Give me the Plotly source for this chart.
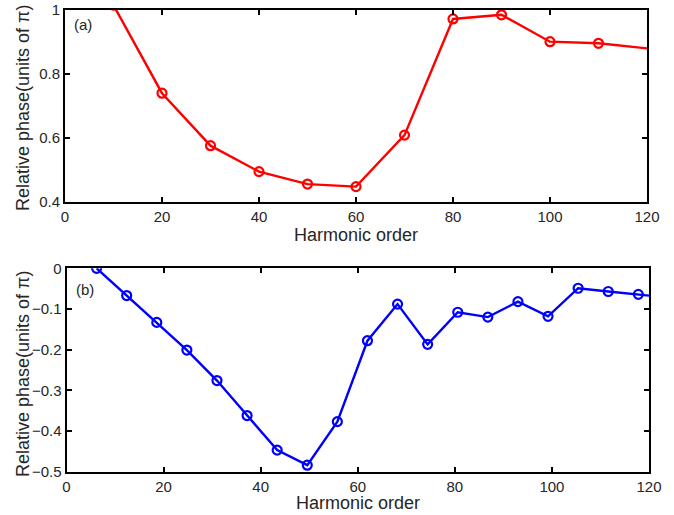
import plotly.graph_objects as go

# Panel (a)
harm_a = [10, 20, 30, 40, 50, 60, 70, 80, 90, 100, 110, 130]
phase_a = [1.015, 0.740, 0.576, 0.495, 0.456, 0.448, 0.609, 0.972, 0.985, 0.901, 0.896, 0.864]

# Panel (b)
harm_b = [6.2, 12.4, 18.6, 24.8, 31.0, 37.2, 43.4, 49.6, 55.8, 62.0,
          68.2, 74.4, 80.6, 86.8, 93.0, 99.2, 105.4, 111.6, 117.8, 124.0]
phase_b = [0.0, -0.067, -0.133, -0.201, -0.276, -0.362, -0.447, -0.484, -0.377, -0.178,
           -0.088, -0.187, -0.108, -0.120, -0.082, -0.118, -0.049, -0.057, -0.064, -0.072]

x_ticks = [0, 20, 40, 60, 80, 100, 120]
ya_ticks = [0.4, 0.6, 0.8, 1.0]
ya_labels = ["0.4", "0.6", "0.8", "1"]
yb_ticks = [-0.5, -0.4, -0.3, -0.2, -0.1, 0]
yb_labels = ["\u22120.5", "\u22120.4", "\u22120.3", "\u22120.2", "\u22120.1", "0"]

x_title = "Harmonic order"
y_title = "Relative phase(units of \u03c0)"

FONT = "Liberation Sans, Arial, Helvetica, sans-serif"
TXT = "#262626"

fig = go.Figure()
fig.add_trace(go.Scatter(x=harm_a, y=phase_a, mode="lines+markers",
                         line=dict(color="#ff0000", width=2.4),
                         marker=dict(symbol="circle-open", size=9, color="#ff0000",
                                     line=dict(width=2.2, color="#ff0000")),
                         xaxis="x", yaxis="y", showlegend=False))
fig.add_trace(go.Scatter(x=harm_b, y=phase_b, mode="lines+markers",
                         line=dict(color="#0000ff", width=2.4),
                         marker=dict(symbol="circle-open", size=9, color="#0000ff",
                                     line=dict(width=2.2, color="#0000ff")),
                         xaxis="x2", yaxis="y2", showlegend=False))

W, H = 674, 515
axis_common = dict(showgrid=False, zeroline=False, showline=True, linecolor="black",
                   linewidth=2, mirror="ticks", ticks="inside", ticklen=5, tickwidth=1.5,
                   tickcolor="black", tickfont=dict(family=FONT, size=15, color=TXT),
                   automargin=False)

fig.update_layout(
    width=W, height=H,
    margin=dict(l=0, r=0, t=0, b=0),
    paper_bgcolor="white", plot_bgcolor="white",
    font=dict(family=FONT, color=TXT),
    xaxis=dict(domain=[65 / W, 647 / W], range=[0, 120], tickvals=x_ticks,
               anchor="y", **axis_common),
    yaxis=dict(domain=[1 - 202 / H, 1 - 10 / H], range=[0.4, 1.0], tickvals=ya_ticks,
               ticktext=ya_labels, anchor="x", **axis_common),
    xaxis2=dict(domain=[66.5 / W, 649 / W], range=[0, 120], tickvals=x_ticks,
                anchor="y2", **axis_common),
    yaxis2=dict(domain=[1 - 471.7 / H, 1 - 268.3 / H], range=[-0.5, 0], tickvals=yb_ticks,
                ticktext=yb_labels, anchor="x2", **axis_common),
)

ann = []
# x titles
ann.append(dict(text=x_title, x=(65 + 647) / 2 / W, y=1 - 235 / H, xref="paper", yref="paper",
                xanchor="center", yanchor="middle",
                showarrow=False, font=dict(family=FONT, size=18, color=TXT)))
ann.append(dict(text=x_title, x=(66.5 + 649) / 2 / W, y=1 - 503 / H, xref="paper", yref="paper",
                xanchor="center", yanchor="middle",
                showarrow=False, font=dict(family=FONT, size=18, color=TXT)))
# y titles
ann.append(dict(text=y_title, x=23 / W, y=1 - 108 / H, xref="paper", yref="paper",
                xanchor="center", yanchor="middle",
                textangle=-90, showarrow=False, font=dict(family=FONT, size=18, color=TXT)))
ann.append(dict(text=y_title, x=23 / W, y=1 - 374 / H, xref="paper", yref="paper",
                xanchor="center", yanchor="middle",
                textangle=-90, showarrow=False, font=dict(family=FONT, size=18, color=TXT)))
# panel labels
ann.append(dict(text="(a)", x=72 / W, y=1 - 25 / H, xref="paper", yref="paper",
                xanchor="left", yanchor="middle",
                showarrow=False, font=dict(family=FONT, size=15, color=TXT)))
ann.append(dict(text="(b)", x=74 / W, y=1 - 289 / H, xref="paper", yref="paper",
                xanchor="left", yanchor="middle",
                showarrow=False, font=dict(family=FONT, size=15, color=TXT)))
fig.update_layout(annotations=ann)

fig.write_html("out.html", config={"displayModeBar": False},
               post_script="document.body.style.margin='0';")
